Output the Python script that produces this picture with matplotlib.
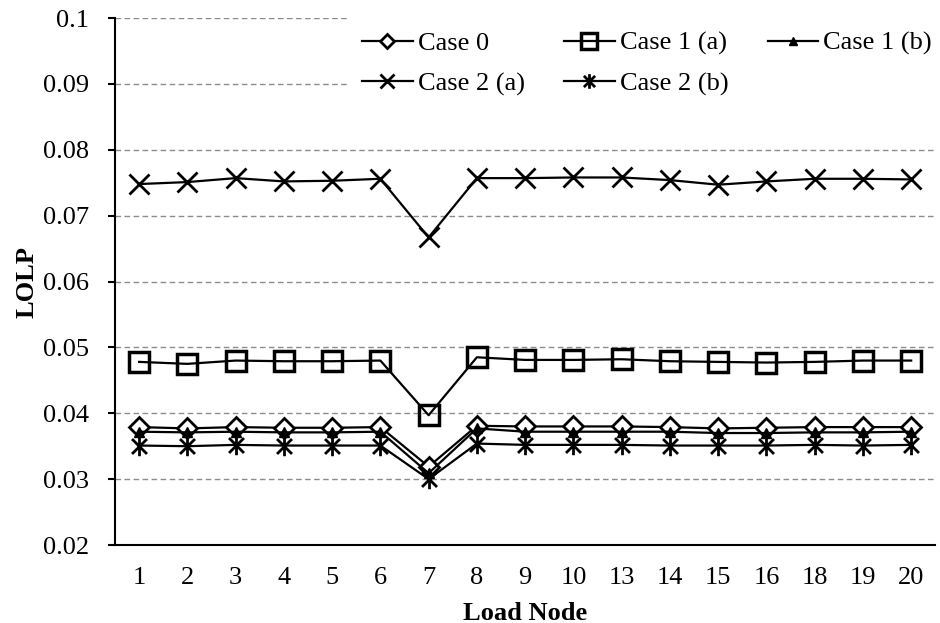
import matplotlib
matplotlib.use("Agg")
import matplotlib.pyplot as plt
from matplotlib.path import Path

plt.rcParams['font.family'] = ['Liberation Serif', 'DejaVu Serif']

nodes = ["1", "2", "3", "4", "5", "6", "7", "8", "9", "10", "13", "14", "15", "16", "18", "19", "20"]

case0 = [0.0379, 0.0377, 0.0379, 0.0378, 0.0378, 0.0379, 0.0319, 0.0381, 0.0380, 0.0380, 0.0380, 0.0379, 0.0377, 0.0378, 0.0379, 0.0379, 0.0379]
case1a = [0.0478, 0.0475, 0.0480, 0.0479, 0.0479, 0.0480, 0.0397, 0.0485, 0.0481, 0.0481, 0.0482, 0.0479, 0.0478, 0.0477, 0.0478, 0.0480, 0.0480]
case1b = [0.0372, 0.0371, 0.0372, 0.0371, 0.0371, 0.0372, 0.0309, 0.0377, 0.0372, 0.0372, 0.0372, 0.0372, 0.0370, 0.0370, 0.0371, 0.0371, 0.0372]
case2a = [0.0748, 0.0751, 0.0757, 0.0752, 0.0753, 0.0756, 0.0667, 0.0757, 0.0757, 0.0758, 0.0758, 0.0754, 0.0747, 0.0752, 0.0756, 0.0756, 0.0755]
case2b = [0.0351, 0.0350, 0.0352, 0.0351, 0.0351, 0.0351, 0.0300, 0.0354, 0.0352, 0.0352, 0.0352, 0.0351, 0.0351, 0.0351, 0.0352, 0.0351, 0.0352]

labels = ["Case 0", "Case 1 (a)", "Case 1 (b)", "Case 2 (a)", "Case 2 (b)"]

asterisk = Path([(-1, -1), (1, 1), (-1, 1), (1, -1), (0, -1.3), (0, 1.3)],
                [Path.MOVETO, Path.LINETO, Path.MOVETO, Path.LINETO, Path.MOVETO, Path.LINETO])

fig = plt.figure(figsize=(9.4, 6.23), dpi=100)
ax = fig.add_axes([0.1223, 0.1252, 0.8727, 0.8458])

x = list(range(len(nodes)))
lw = 1.6
mew = 2.0
h0, = ax.plot(x, case0, color='black', lw=lw, marker='D', ms=10, mfc='white', mec='black', mew=mew, label=labels[0], zorder=3)
h1, = ax.plot(x, case1a, color='black', lw=lw, marker='s', ms=15, mfc='none', mec='black', mew=mew + 0.5, label=labels[1], zorder=3)
h2, = ax.plot(x, case1b, color='black', lw=lw, marker='^', ms=7, mfc='black', mec='black', mew=1, label=labels[2], zorder=4)
h3, = ax.plot(x, case2a, color='black', lw=lw, marker='x', ms=14, mec='black', mew=mew, label=labels[3], zorder=3)
h4, = ax.plot(x, case2b, color='black', lw=lw, marker=asterisk, ms=14, mec='black', mew=mew, label=labels[4], zorder=3)

ax.set_xlim(-0.5, len(nodes) - 0.5)
ax.set_ylim(0.02, 0.1)
ax.set_xticks(x)
ax.set_xticklabels(nodes)
ax.set_yticks([0.02, 0.03, 0.04, 0.05, 0.06, 0.07, 0.08, 0.09, 0.1])
ax.set_yticklabels(["0.02", "0.03", "0.04", "0.05", "0.06", "0.07", "0.08", "0.09", "0.1"])
ax.tick_params(axis='y', labelsize=19, length=5, width=1.5, direction='out', pad=13.5)
ax.tick_params(axis='x', labelsize=19, length=0, pad=16)
ax.yaxis.grid(True, linestyle=(0, (4, 2.5)), color='#8c8c8c', lw=1.0)
ax.set_axisbelow(True)
for s in ['top', 'right']:
    ax.spines[s].set_visible(False)
ax.spines['left'].set_linewidth(1.5)
ax.spines['bottom'].set_linewidth(1.5)

ax.set_xlabel("Load Node", fontsize=19, fontweight='bold', labelpad=9)
ax.set_ylabel("LOLP", fontsize=19, fontweight='bold', labelpad=3)

handles = [h0, h3, h1, h4, h2]
leg_labels = [labels[0], labels[3], labels[1], labels[4], labels[2]]
leg = ax.legend(handles, leg_labels, loc='upper left', ncol=3, frameon=True, fontsize=19,
                handlelength=1.9, columnspacing=1.5, handletextpad=0.2, borderpad=0.5,
                bbox_to_anchor=(336 / 940, 1 - 5 / 623), bbox_transform=fig.transFigure,
                labelspacing=0.64, markerscale=0.75, fancybox=False)
leg.get_frame().set_edgecolor('none')
leg.get_frame().set_facecolor('white')
leg.get_frame().set_alpha(1.0)

fig.savefig("out.png", dpi=100)
